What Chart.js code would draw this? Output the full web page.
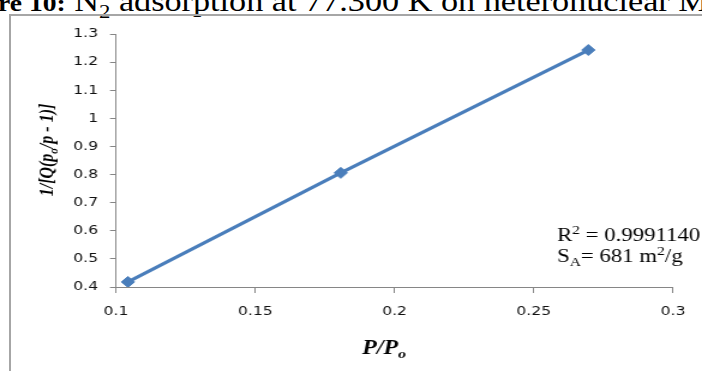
<!DOCTYPE html>
<html>
<head>
<meta charset="utf-8">
<script src="https://cdn.jsdelivr.net/npm/chart.js@4"></script>
<style>
  html, body { margin:0; padding:0; background:#fff; width:702px; height:371px; overflow:hidden; }
  #caption { position:absolute; left:-2px; top:-14px; font-family:"Liberation Serif","Times New Roman",serif; font-size:28.5px; white-space:nowrap; color:#000; transform:scaleX(1.2); transform-origin:0 0; }
  #caption b { font-size:23px; }
  #frame { position:absolute; left:9px; top:14px; width:720px; height:400px; border-left:2px solid #a6a6a6; border-top:2px solid #a6a6a6; }
  #c { position:absolute; left:0; top:0; width:702px; height:371px; }
</style>
</head>
<body>
<div id="caption"><b>re 10:</b> N<sub style="font-size:19px">2</sub> adsorption at 77.300 K on heteronuclear MOF</div>
<div id="frame"></div>
<canvas id="c" width="585" height="371" style="width:702px;height:371px"></canvas>
<script>
// data
const xValues = [0.1043, 0.1807, 0.2696];
const yValues = [0.418, 0.806, 1.243];
const xTicks = [0.1, 0.15, 0.2, 0.25, 0.3];
const xTickLabels = ['0.1', '0.15', '0.2', '0.25', '0.3'];
const yTicks = [0.4, 0.5, 0.6, 0.7, 0.8, 0.9, 1.0, 1.1, 1.2, 1.3];
const yTickLabels = ['0.4', '0.5', '0.6', '0.7', '0.8', '0.9', '1', '1.1', '1.2', '1.3'];
const xTitle = [['P/P', ''], ['o', 'sub']];
const yTitle = [['1/[Q(p', ''], ['o', 'sub'], ['/p - 1)]', '']];
const noteR = [['R', ''], ['2', 'sup'], [' = 0.9991140', '']];
const noteS = [['S', ''], ['A', 'sub'], ['= 681 m', ''], ['2', 'sup'], ['/g', '']];

// the original picture is stretched sideways, so the canvas is too
const S = 1.2;
const sx = x => x / S;

const blue = '#4a7ebb';
const axisGray = '#868686';

// draws text pieces with sub/superscripts
function drawRich(ctx, parts, x, y, size, style, align) {
  const fam = '"Liberation Serif", "Times New Roman", serif';
  const fontFor = m => `${style} ${m ? Math.round(size * 0.66) : size}px ${fam}`;
  let w = 0;
  parts.forEach(([t, m]) => { ctx.font = fontFor(m); w += ctx.measureText(t).width; });
  let cx = align === 'center' ? x - w / 2 : x;
  ctx.textAlign = 'left';
  ctx.textBaseline = 'alphabetic';
  parts.forEach(([t, m]) => {
    ctx.font = fontFor(m);
    const dy = m === 'sub' ? size * 0.22 : m === 'sup' ? -size * 0.38 : 0;
    ctx.fillText(t, cx, y + dy);
    cx += ctx.measureText(t).width;
  });
}

const textPlugin = {
  id: 'texts',
  afterDraw(chart) {
    const ctx = chart.ctx;
    ctx.save();
    ctx.fillStyle = '#000';
    drawRich(ctx, xTitle, sx(384), 354, 20, 'italic bold', 'center');
    ctx.translate(sx(53), 150);
    ctx.rotate(-Math.PI / 2);
    drawRich(ctx, yTitle, 0, 0, 16, 'italic bold', 'center');
    ctx.restore();
    ctx.save();
    ctx.fillStyle = '#000';
    drawRich(ctx, noteR, sx(557), 241, 19, 'normal', 'left');
    drawRich(ctx, noteS, sx(557), 262, 19, 'normal', 'left');
    ctx.restore();
  }
};

const tickFont = { family: '"DejaVu Sans", sans-serif', size: 13 };

new Chart(document.getElementById('c'), {
  type: 'scatter',
  data: {
    datasets: [{
      data: xValues.map((x, i) => ({ x, y: yValues[i] })),
      showLine: true,
      borderColor: blue,
      backgroundColor: blue,
      borderWidth: 3.2,
      pointStyle: 'rectRot',
      pointRadius: 5.5,
      pointHoverRadius: 5.5,
      pointBorderWidth: 1
    }]
  },
  options: {
    responsive: false,
    animation: false,
    devicePixelRatio: 1,
    events: [],
    layout: { padding: { left: 0, top: 34, right: sx(702 - 673), bottom: 0 } },
    plugins: { legend: { display: false }, tooltip: { enabled: false } },
    scales: {
      x: {
        min: 0.1, max: 0.3,
        afterBuildTicks: s => { s.ticks = xTicks.map(v => ({ value: v })); },
        afterFit: s => { s.height = 84; },
        ticks: {
          callback: (v, i) => xTickLabels[i],
          font: tickFont, color: '#111', padding: 11, maxRotation: 0
        },
        grid: { drawOnChartArea: false, tickLength: 6, color: axisGray },
        border: { color: axisGray, width: 1 }
      },
      y: {
        min: 0.4, max: 1.3,
        afterBuildTicks: s => { s.ticks = yTicks.map(v => ({ value: v })); },
        afterFit: s => { s.width = sx(116); },
        ticks: {
          callback: (v, i) => yTickLabels[i],
          font: tickFont, color: '#111', padding: 10
        },
        grid: { drawOnChartArea: false, tickLength: 5, color: axisGray },
        border: { color: axisGray, width: 1 }
      }
    }
  },
  plugins: [textPlugin]
});
</script>
</body>
</html>
